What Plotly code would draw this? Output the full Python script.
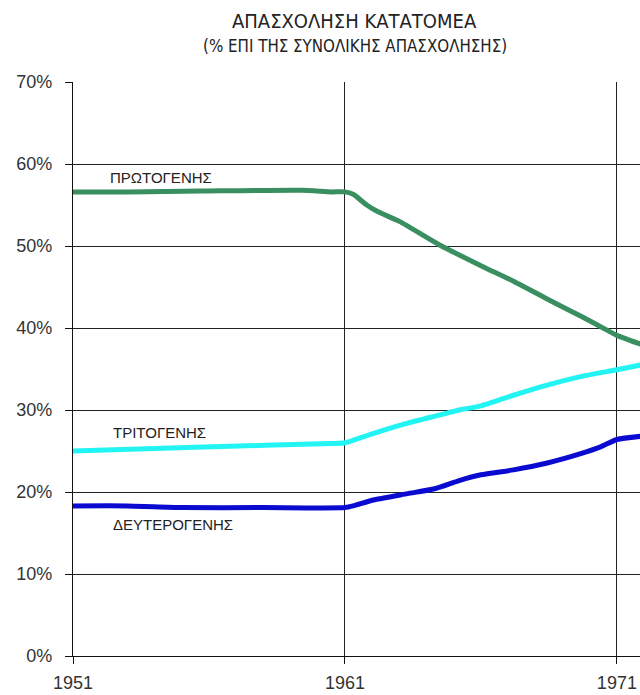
import plotly.graph_objects as go

# ---- data (percent of total employment) ----
years_primary = [1951, 1953, 1955.7, 1959.4, 1960.5, 1961, 1961.3, 1961.8, 1962.2, 1963.0,
                 1964.5, 1966.0, 1967.2, 1968.4, 1969.7, 1970.6, 1971.0, 1971.9]
primary = [56.6, 56.6, 56.7, 56.8, 56.6, 56.6, 56.3, 55.0, 54.2, 53.0,
           50.1, 47.6, 45.7, 43.6, 41.4, 39.8, 39.1, 38.0]

years_tertiary = [1951, 1955.8, 1960.5, 1961, 1961.3, 1962.0, 1963.3, 1964.5, 1965.2,
                  1966.0, 1967.2, 1968.4, 1969.7, 1971.0, 1971.9]
tertiary = [25.0, 25.5, 25.9, 26.0, 26.3, 27.1, 28.4, 29.4, 30.0,
            30.5, 31.8, 33.0, 34.1, 34.9, 35.5]

years_secondary = [1951, 1953, 1955, 1958, 1961, 1961.3, 1962.0, 1963.3, 1964.3, 1965.2,
                   1966.0, 1967.2, 1968.4, 1969.7, 1970.4, 1971.0, 1971.9]
secondary = [18.3, 18.3, 18.1, 18.1, 18.1, 18.3, 19.0, 19.8, 20.4, 21.4,
             22.1, 22.7, 23.5, 24.7, 25.5, 26.4, 26.8]

x_ticks = [1951, 1961, 1971]
y_ticks = [0, 10, 20, 30, 40, 50, 60, 70]

labels = ["ΠΡΩΤΟΓΕΝΗΣ", "ΤΡΙΤΟΓΕΝΗΣ", "ΔΕΥΤΕΡΟΓΕΝΗΣ"]
label_x = [1952.3, 1952.4, 1952.4]
label_y = [58.3, 27.2, 16.0]

title = "ΑΠΑΣΧΟΛΗΣΗ ΚΑΤΑΤΟΜΕΑ"
subtitle = "(% ΕΠΙ ΤΗΣ ΣΥΝΟΛΙΚΗΣ ΑΠΑΣΧΟΛΗΣΗΣ)"

# ---- figure ----
fig = go.Figure()
series = [
    (years_primary, primary, "#3a8f60"),
    (years_tertiary, tertiary, "#22f4f4"),
    (years_secondary, secondary, "#0a0ad0"),
]
for xs, ys, col in series:
    fig.add_trace(go.Scatter(x=xs, y=ys, mode="lines",
                             line=dict(color=col, width=5, shape="spline", smoothing=0.6),
                             showlegend=False, hoverinfo="skip"))

for txt, lx, ly in zip(labels, label_x, label_y):
    fig.add_annotation(x=lx, y=ly, xref="x", yref="y", text=txt, showarrow=False,
                       xanchor="left", yanchor="middle",
                       font=dict(family="Liberation Sans, Arial, sans-serif", size=15, color="#222"))

title_font = "Liberation Sans Narrow, DejaVu Sans Condensed, Liberation Sans, sans-serif"
fig.add_annotation(x=0.496, y=1.106, xref="paper", yref="paper", text=title, showarrow=False,
                   xanchor="center", yanchor="middle",
                   font=dict(family=title_font, size=20, color="#222"))
fig.add_annotation(x=0.497, y=1.062, xref="paper", yref="paper", text=subtitle, showarrow=False,
                   xanchor="center", yanchor="middle",
                   font=dict(family=title_font, size=16.8, color="#222"))

axis_font = dict(family="Liberation Sans, Arial, sans-serif", size=18, color="#333")
fig.update_layout(
    width=640, height=695,
    margin=dict(l=73, r=0, t=82, b=39, pad=0),
    plot_bgcolor="white", paper_bgcolor="white",
    xaxis=dict(range=[1951, 1971.85], tickvals=x_ticks, ticktext=[str(v) for v in x_ticks],
               showgrid=True, gridcolor="#222", gridwidth=1.2,
               showline=True, linecolor="#111", linewidth=1.2,
               ticks="outside", ticklen=7, tickcolor="#111", tickwidth=1.2,
               tickfont=axis_font, zeroline=False, fixedrange=True,
               ticklabelstandoff=3),
    yaxis=dict(range=[0, 70], tickvals=y_ticks, ticktext=[f"{v}%" for v in y_ticks],
               showgrid=True, gridcolor="#222", gridwidth=1.2,
               showline=True, linecolor="#111", linewidth=1.2,
               ticks="outside", ticklen=7, tickcolor="#111", tickwidth=1.2,
               tickfont=axis_font, zeroline=False, fixedrange=True,
               ticklabelstandoff=9),
)

fig.write_html("out.html")
